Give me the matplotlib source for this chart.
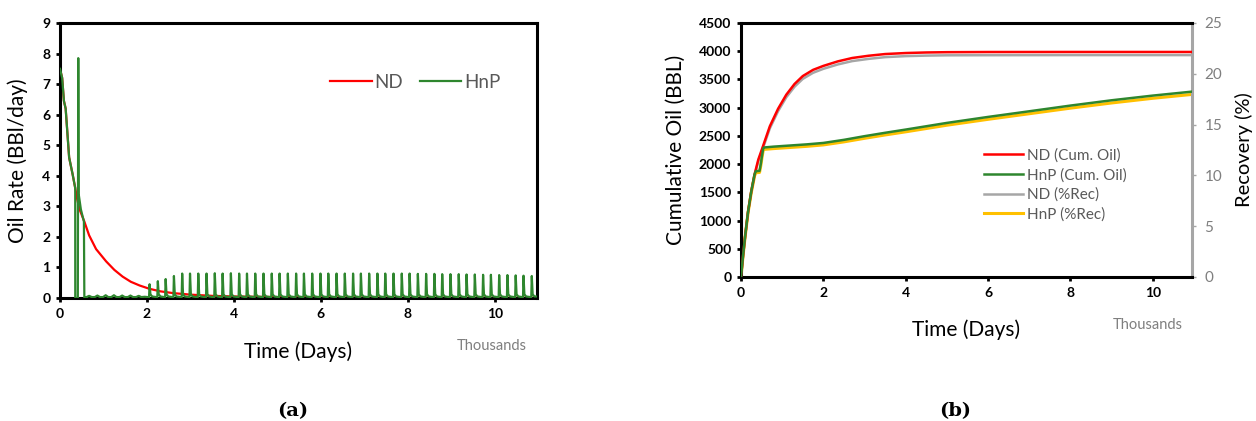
import matplotlib
matplotlib.use("Agg")
import matplotlib.pyplot as plt
import numpy as np

plt.rcParams['font.family'] = ['Lato', 'DejaVu Sans']

# ---------------- Data (time in thousands of days) ----------------
# (a) Oil rate, BBl/day
nd_rate_t = [0, 0.05, 0.09, 0.13, 0.17, 0.21, 0.29, 0.35, 0.40, 0.45, 0.56, 0.67, 0.83,
             1.06, 1.25, 1.44, 1.63, 1.83, 2.06, 2.3, 2.6, 3.0, 3.5, 4.0, 5.0, 6.0, 8.0, 10.95]
nd_rate = [7.5, 7.2, 6.45, 6.2, 5.4, 4.6, 4.05, 3.6, 3.2, 2.9, 2.5, 2.05, 1.6,
           1.2, 0.92, 0.7, 0.53, 0.41, 0.3, 0.22, 0.16, 0.11, 0.07, 0.05, 0.03, 0.02, 0.012, 0.008]

hnp_early_t = [0, 0.05, 0.09, 0.13, 0.17, 0.21, 0.29, 0.35, 0.351, 0.41, 0.42, 0.43, 0.48,
               0.55, 0.56, 0.62]
hnp_early = [7.5, 7.2, 6.45, 6.2, 5.4, 4.6, 4.05, 3.6, 0.0, 0.0, 7.85, 3.4, 2.9,
             2.5, 0.0, 0.03]
hnp_small_t = [0.67, 0.86, 1.05, 1.24, 1.43, 1.62, 1.81]
hnp_small = [0.07, 0.08, 0.09, 0.09, 0.08, 0.08, 0.07]
hnp_peak_t = [2.06, 2.25, 2.43, 2.62, 2.81, 2.99, 3.18, 3.37, 3.56, 3.74, 3.93, 4.12,
              4.30, 4.49, 4.68, 4.87, 5.05, 5.24, 5.43, 5.61, 5.80, 5.99, 6.17, 6.36,
              6.55, 6.74, 6.92, 7.11, 7.30, 7.48, 7.67, 7.86, 8.04, 8.23, 8.42, 8.61,
              8.79, 8.98, 9.17, 9.35, 9.54, 9.73, 9.91, 10.10, 10.29, 10.48, 10.66, 10.85]
hnp_peak = [0.45, 0.55, 0.62, 0.72, 0.80, 0.80, 0.80, 0.80, 0.81, 0.80, 0.81, 0.80,
            0.80, 0.80, 0.80, 0.80, 0.80, 0.80, 0.80, 0.80, 0.80, 0.80, 0.80, 0.80,
            0.80, 0.80, 0.80, 0.80, 0.80, 0.80, 0.80, 0.80, 0.80, 0.79, 0.79, 0.79,
            0.78, 0.78, 0.78, 0.77, 0.77, 0.76, 0.76, 0.75, 0.75, 0.74, 0.73, 0.72]
hnp_base = 0.05

# (b) Cumulative oil (BBL) and recovery (%)
nd_cum_t = [0, 0.05, 0.1, 0.17, 0.25, 0.33, 0.42, 0.54, 0.7, 0.9, 1.1, 1.3, 1.5, 1.75,
            2.0, 2.35, 2.7, 3.1, 3.5, 4.0, 4.5, 5.0, 6.0, 8.0, 10.95]
nd_cum = [0, 380, 720, 1150, 1520, 1820, 2080, 2330, 2670, 2980, 3230, 3420, 3560, 3670,
          3740, 3820, 3880, 3920, 3950, 3968, 3978, 3983, 3986, 3987, 3987]
nd_rec = [0, 2.08, 3.94, 6.30, 8.33, 9.97, 11.39, 12.76, 14.63, 16.32, 17.69, 18.73, 19.50,
          20.10, 20.49, 20.92, 21.25, 21.47, 21.64, 21.74, 21.79, 21.82, 21.83, 21.84, 21.84]

hnp_cum_t = [0, 0.05, 0.1, 0.17, 0.25, 0.33, 0.36, 0.45, 0.48, 0.51, 0.54, 0.56, 0.8, 1.2,
             1.6, 2.0, 2.5, 3.0, 3.5, 4.0, 5.0, 6.0, 7.0, 8.0, 9.0, 10.0, 10.95]
hnp_cum = [0, 380, 720, 1150, 1520, 1820, 1875, 1880, 2000, 2150, 2280, 2295, 2310, 2330,
           2350, 2375, 2430, 2495, 2555, 2612, 2730, 2836, 2936, 3037, 3131, 3214, 3284]
hnp_rec = [0, 2.08, 3.94, 6.29, 8.32, 9.96, 10.26, 10.29, 10.94, 11.76, 12.48, 12.56, 12.64,
           12.75, 12.86, 13.0, 13.3, 13.65, 13.98, 14.29, 14.94, 15.52, 16.07, 16.62, 17.13,
           17.59, 17.97]

# ---------------- Build HnP rate series from read values ----------------
ht = list(hnp_early_t)
hq = list(hnp_early)
for t, h in zip(hnp_small_t, hnp_small):
    ht += [t - 0.06, t, t + 0.06]
    hq += [0.03, h, 0.03]
ht += [1.95]
hq += [0.04]
for t, h in zip(hnp_peak_t, hnp_peak):
    ht += [t - 0.012, t, t + 0.02, t + 0.06]
    hq += [hnp_base * 0.5, h, 0.12, hnp_base]
ht += [10.95]
hq += [hnp_base]

RED = '#FF0000'
GREEN = '#2E862E'
GRAY = '#A6A6A6'
YELLOW = '#FFC000'
TXTGRAY = '#595959'

fig = plt.figure(figsize=(12.56, 4.21), dpi=100)
W, H = 1256, 421

def rect(x0, y0, x1, y1):
    return [x0 / W, 1 - y1 / H, (x1 - x0) / W, (y1 - y0) / H]

# ---------------- (a) ----------------
ax1 = fig.add_axes(rect(60, 23, 537, 298))
ax1.plot(nd_rate_t, nd_rate, color=RED, lw=1.6, label='ND', zorder=2)
ax1.plot(ht, hq, color=GREEN, lw=1.6, label='HnP', zorder=3)
ax1.set_xlim(0, 10.97)
ax1.set_ylim(0, 9)
ax1.set_xticks([0, 2, 4, 6, 8, 10])
ax1.set_yticks(range(0, 10))
ax1.set_ylabel('Oil Rate (BBl/day)', fontsize=15)
ax1.yaxis.set_label_coords((28 - 60) / 477, 0.5)
ax1.set_xlabel('Time (Days)', fontsize=15)
ax1.xaxis.set_label_coords(0.5, -(341 - 298) / 275)
leg1 = ax1.legend(loc='center', bbox_to_anchor=(0.745, 0.785), ncol=2, frameon=False,
                  fontsize=13.5, handlelength=2.2, handletextpad=0.15, columnspacing=0.9)
for t in leg1.get_texts():
    t.set_color(TXTGRAY)
fig.text(492 / W, 1 - 346 / H, 'Thousands', fontsize=10.5, color='#7F7F7F',
         ha='center', va='center')

# ---------------- (b) ----------------
ax2 = fig.add_axes(rect(741, 23, 1192, 277))
l1, = ax2.plot(nd_cum_t, nd_cum, color=RED, lw=1.8, label='ND (Cum. Oil)', zorder=3)
l2, = ax2.plot(hnp_cum_t, hnp_cum, color=GREEN, lw=1.8, label='HnP (Cum. Oil)', zorder=3)
ax2.set_xlim(0, 10.95)
ax2.set_ylim(0, 4500)
ax2.set_xticks([0, 2, 4, 6, 8, 10])
ax2.set_yticks(range(0, 4501, 500))
ax2.set_ylabel('Cumulative Oil (BBL)', fontsize=15)
ax2.yaxis.set_label_coords((686 - 741) / 451, 0.5)
ax2.set_xlabel('Time (Days)', fontsize=15)
ax2.xaxis.set_label_coords(0.5, -(319 - 277) / 254)

ax3 = ax2.twinx()
l3, = ax3.plot(nd_cum_t, nd_rec, color=GRAY, lw=1.8, label='ND (%Rec)', zorder=1)
l4, = ax3.plot(hnp_cum_t, hnp_rec, color=YELLOW, lw=2.2, label='HnP (%Rec)', zorder=1)
ax3.set_ylim(0, 25)
ax3.set_yticks(range(0, 26, 5))
ax3.set_ylabel('Recovery (%)', fontsize=14.5)
ax3.yaxis.set_label_coords((1235 - 741) / 451, 0.5)
ax2.set_zorder(ax3.get_zorder() + 1)
ax2.patch.set_visible(False)

leg2 = ax2.legend(handles=[l1, l2, l3, l4], loc='center',
                  bbox_to_anchor=((1055 - 741) / 451, (277 - 185) / 254),
                  frameon=False, fontsize=11, handlelength=2.6, handletextpad=0.2,
                  labelspacing=0.35)
for t in leg2.get_texts():
    t.set_color(TXTGRAY)
fig.text(1148 / W, 1 - 325 / H, 'Thousands', fontsize=10.5, color='#7F7F7F',
         ha='center', va='center')

# ---------------- styling ----------------
for ax in (ax1, ax2):
    for s in ax.spines.values():
        s.set_linewidth(2.2)
        s.set_color('black')
    ax.tick_params(axis='both', direction='out', length=3, width=2, labelsize=10,
                   colors='black', pad=4)
    for lab in ax.get_xticklabels() + ax.get_yticklabels():
        lab.set_fontweight('bold')
ax2.spines['right'].set_visible(False)
for s in ['left', 'top', 'bottom']:
    ax3.spines[s].set_visible(False)
ax3.spines['right'].set_color(GRAY)
ax3.spines['right'].set_linewidth(2.2)
ax3.tick_params(axis='y', direction='out', length=3, width=1, color=GRAY,
                labelcolor='#7F7F7F', labelsize=11, pad=6)

fig.text(293 / W, 1 - 411 / H, '(a)', fontsize=14, fontweight='bold',
         family='DejaVu Serif', ha='center', va='center')
fig.text(955 / W, 1 - 411 / H, '(b)', fontsize=14, fontweight='bold',
         family='DejaVu Serif', ha='center', va='center')

fig.savefig('out.png', dpi=100)
